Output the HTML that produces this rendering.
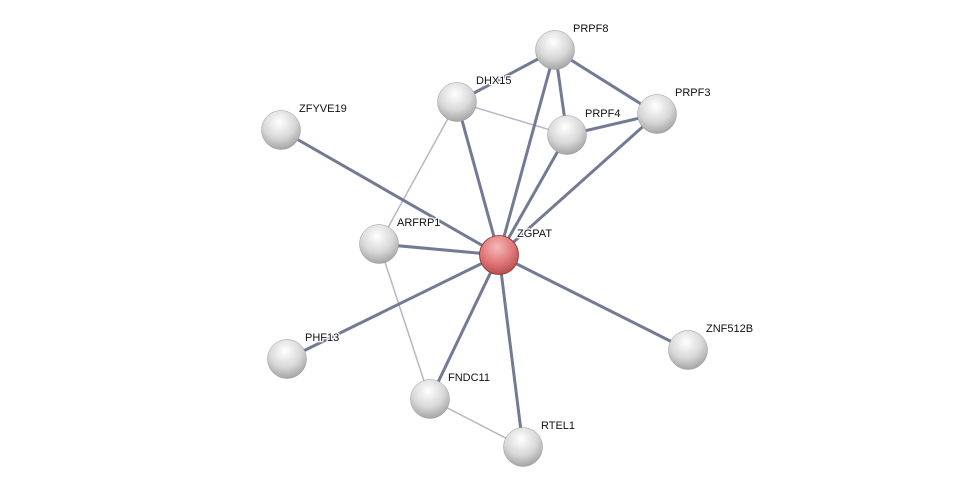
<!DOCTYPE html>
<html><head><style>
html,body{margin:0;padding:0;background:#fff;}
svg text{font-family:"Liberation Sans",sans-serif;font-size:11px;fill:#111;stroke:#fff;stroke-width:2.5px;paint-order:stroke;stroke-linejoin:round;}
</style></head><body>
<svg width="975" height="492" viewBox="0 0 975 492" xmlns="http://www.w3.org/2000/svg">
<defs>
<radialGradient id="g" cx="0.45" cy="0.3" r="0.75">
<stop offset="0" stop-color="#ffffff"/><stop offset="0.55" stop-color="#d8d8d8"/><stop offset="1" stop-color="#9c9c9c"/>
</radialGradient>
<radialGradient id="r" cx="0.45" cy="0.3" r="0.75">
<stop offset="0" stop-color="#f6b8b8"/><stop offset="0.55" stop-color="#e07878"/><stop offset="1" stop-color="#b04848"/>
</radialGradient>
</defs>
<g stroke="#b5b8c8" stroke-width="1.5">
<line x1="457" y1="102" x2="567" y2="135"/>
<line x1="457" y1="102" x2="379" y2="244"/>
<line x1="379" y1="244" x2="430" y2="399"/>
<line x1="430" y1="399" x2="523" y2="447"/>
</g>
<g stroke="#737a93" stroke-width="3">
<line x1="499" y1="255" x2="555" y2="50"/>
<line x1="499" y1="255" x2="457" y2="102"/>
<line x1="499" y1="255" x2="567" y2="135"/>
<line x1="499" y1="255" x2="657" y2="114"/>
<line x1="499" y1="255" x2="281" y2="130"/>
<line x1="499" y1="255" x2="379" y2="244"/>
<line x1="499" y1="255" x2="287" y2="359"/>
<line x1="499" y1="255" x2="430" y2="399"/>
<line x1="499" y1="255" x2="523" y2="447"/>
<line x1="499" y1="255" x2="688" y2="350"/>
<line x1="555" y1="50" x2="657" y2="114"/>
<line x1="555" y1="50" x2="567" y2="135"/>
<line x1="555" y1="50" x2="457" y2="102"/>
<line x1="567" y1="135" x2="657" y2="114"/>
</g>
<g>
<circle cx="555" cy="50" r="19.5" fill="url(#g)" stroke="#999" stroke-width="0.5"/>
<circle cx="457" cy="102" r="19.5" fill="url(#g)" stroke="#999" stroke-width="0.5"/>
<circle cx="657" cy="114" r="19.5" fill="url(#g)" stroke="#999" stroke-width="0.5"/>
<circle cx="567" cy="135" r="19.5" fill="url(#g)" stroke="#999" stroke-width="0.5"/>
<circle cx="281" cy="130" r="19.5" fill="url(#g)" stroke="#999" stroke-width="0.5"/>
<circle cx="379" cy="244" r="19.5" fill="url(#g)" stroke="#999" stroke-width="0.5"/>
<circle cx="688" cy="350" r="19.5" fill="url(#g)" stroke="#999" stroke-width="0.5"/>
<circle cx="287" cy="359" r="19.5" fill="url(#g)" stroke="#999" stroke-width="0.5"/>
<circle cx="430" cy="399" r="19.5" fill="url(#g)" stroke="#999" stroke-width="0.5"/>
<circle cx="523" cy="447" r="19.5" fill="url(#g)" stroke="#999" stroke-width="0.5"/>
<circle cx="499" cy="255" r="19.5" fill="url(#r)" stroke="#8a3030" stroke-width="0.8"/>
</g>
<text x="573" y="32">PRPF8</text>
<text x="476" y="84">DHX15</text>
<text x="675" y="96">PRPF3</text>
<text x="585" y="117">PRPF4</text>
<text x="299" y="112">ZFYVE19</text>
<text x="397" y="226">ARFRP1</text>
<text x="517" y="237">ZGPAT</text>
<text x="706" y="332">ZNF512B</text>
<text x="305" y="341">PHF13</text>
<text x="448" y="381">FNDC11</text>
<text x="541" y="429">RTEL1</text>
</svg>
</body></html>
